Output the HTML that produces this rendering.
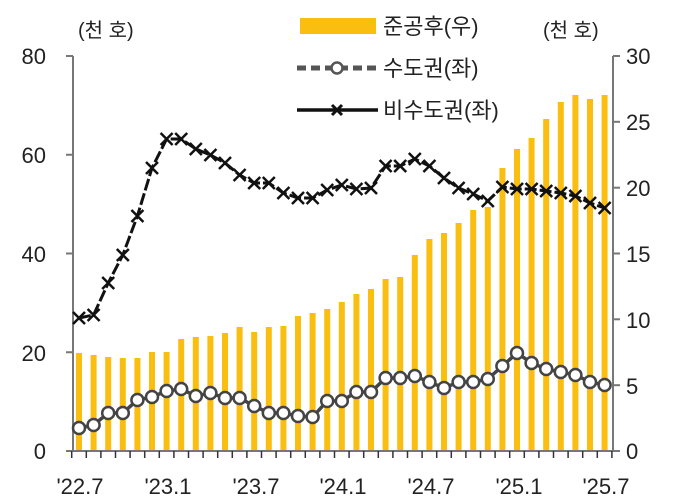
<!DOCTYPE html>
<html><head><meta charset="utf-8"><style>
body{margin:0;background:#fff}
svg{display:block}
text{font-family:"Liberation Sans","Noto Sans CJK KR",sans-serif;fill:#222}
</style></head><body>
<svg width="678" height="504" viewBox="0 0 678 504" xmlns="http://www.w3.org/2000/svg">
<g id="bars" fill="#F9BE0F"></g>
<line x1="73" y1="56" x2="73" y2="451" stroke="#777" stroke-width="2"/>
<line x1="613" y1="56" x2="613" y2="451" stroke="#777" stroke-width="2"/>
<line x1="66" y1="451" x2="620" y2="451" stroke="#777" stroke-width="2"/>
<g stroke="#777" stroke-width="2">
<line x1="66" y1="56" x2="73" y2="56"/><line x1="66" y1="154.75" x2="73" y2="154.75"/><line x1="66" y1="253.5" x2="73" y2="253.5"/><line x1="66" y1="352.25" x2="73" y2="352.25"/>
<line x1="613" y1="56" x2="620" y2="56"/><line x1="613" y1="121.8" x2="620" y2="121.8"/><line x1="613" y1="187.7" x2="620" y2="187.7"/><line x1="613" y1="253.5" x2="620" y2="253.5"/><line x1="613" y1="319.3" x2="620" y2="319.3"/><line x1="613" y1="385.2" x2="620" y2="385.2"/>
</g>
<g id="ticks" stroke="#333" stroke-width="1.5"></g>
<g id="lines"></g>
<g font-size="22">
<text x="46" y="64" text-anchor="end">80</text>
<text x="46" y="163" text-anchor="end">60</text>
<text x="46" y="262" text-anchor="end">40</text>
<text x="46" y="361" text-anchor="end">20</text>
<text x="46" y="459" text-anchor="end">0</text>
<text x="626" y="64">30</text>
<text x="626" y="130">25</text>
<text x="626" y="196">20</text>
<text x="626" y="262">15</text>
<text x="626" y="328">10</text>
<text x="626" y="394">5</text>
<text x="626" y="459">0</text>
<text x="80" y="494" text-anchor="middle">'22.7</text>
<text x="168" y="494" text-anchor="middle">'23.1</text>
<text x="256" y="494" text-anchor="middle">'23.7</text>
<text x="343" y="494" text-anchor="middle">'24.1</text>
<text x="431" y="494" text-anchor="middle">'24.7</text>
<text x="519" y="494" text-anchor="middle">'25.1</text>
<text x="606" y="494" text-anchor="middle">'25.7</text>
<text x="78" y="37" font-size="20">(천 호)</text>
<text x="543" y="37" font-size="20">(천 호)</text>
</g>
<rect x="300" y="18" width="76" height="16" fill="#F9BE0F"/>
<text x="383" y="34" font-size="22">준공후(우)</text>
<line x1="297" y1="68" x2="378" y2="68" stroke="#555" stroke-width="5" stroke-dasharray="9,5"/>
<circle cx="337" cy="68" r="5.5" fill="#fff" stroke="#555" stroke-width="2.5"/>
<text x="383" y="76" font-size="22">수도권(좌)</text>
<line x1="297" y1="110" x2="378" y2="110" stroke="#111" stroke-width="3.5"/>
<path d="M332 105 l10 10 M342 105 l-10 10" stroke="#111" stroke-width="3"/>
<text x="383" y="118" font-size="22">비수도권(좌)</text>
</svg>
<script>
const X=i=>79+14.6*i;
const bars=[353,355,357,358,358,352,352,339,337,336,333,327,332,327,326,316,313,309,302,294,289,279,277,255,239,233,223,210,207,168,149,138,119,102,95,99,95];
const circ=[428,425,413,413,400,397,391,389,396,393,398,398,406,413,413,416,417,401,401,392,392,378,378,376,382,388,382,382,379,366,353,363,369,372,375,382,385];
const crs=[318,315,283,255,216,168,139,139,149,155,163,175,183,183,193,198,198,190,185,189,188,166,166,159,166,178,188,194,201,187,189,189,191,193,196,203,208];
let h='';
bars.forEach((y,i)=>{h+=`<rect x="${X(i)-3}" y="${y}" width="6" height="${451-y}"/>`});
document.getElementById('bars').innerHTML=h;
let t='';for(let i=0;i<=37;i++){const x=X(i)-7.3;t+=`<line x1="${x}" y1="451" x2="${x}" y2="458"/>`}
document.getElementById('ticks').innerHTML=t;
let l='';
l+=`<polyline points="${crs.map((y,i)=>X(i)+','+y).join(' ')}" fill="none" stroke="#111" stroke-width="3" stroke-dasharray="12,3"/>`;
crs.forEach((y,i)=>{const x=X(i);l+=`<path d="M${x-6} ${y-6} l12 12 M${x+6} ${y-6} l-12 12" stroke="#111" stroke-width="2.5"/>`});
l+=`<polyline points="${circ.map((y,i)=>X(i)+','+y).join(' ')}" fill="none" stroke="#444" stroke-width="3.5"/>`;
circ.forEach((y,i)=>{l+=`<circle cx="${X(i)}" cy="${y}" r="6" fill="#fff" stroke="#444" stroke-width="2.5"/>`});
document.getElementById('lines').innerHTML=l;
</script>
</body></html>
